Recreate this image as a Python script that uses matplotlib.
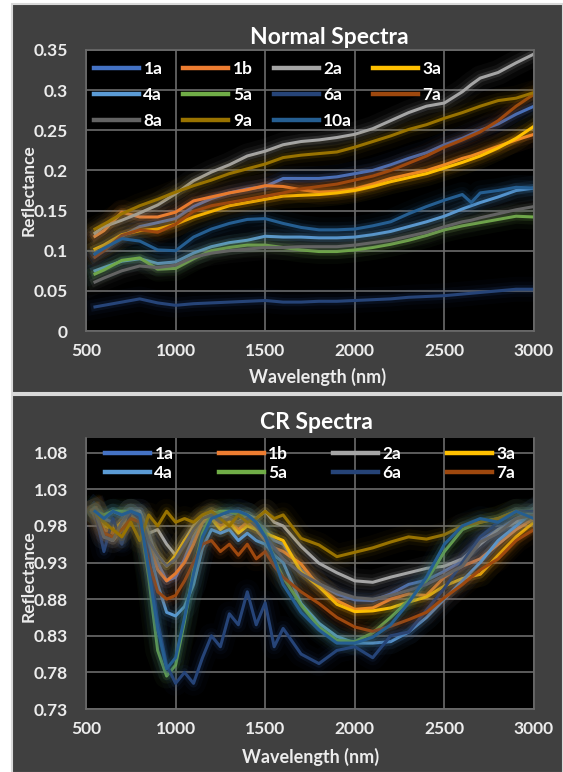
import matplotlib
matplotlib.use("Agg")
import matplotlib.pyplot as plt
import matplotlib.patheffects as pe
from matplotlib.patches import Rectangle
from matplotlib.ticker import FixedLocator, FixedFormatter

plt.rcParams['font.family'] = ['Lato', 'DejaVu Sans']
plt.rcParams['font.weight'] = 'bold'

# ---------------- data: Normal spectra ----------------
wl_normal = [550, 600, 700, 800, 900, 1000, 1100, 1200, 1300, 1400, 1500, 1600, 1700,
             1800, 1900, 2000, 2100, 2200, 2300, 2400, 2500, 2600, 2650, 2700, 2800, 2900, 3000]
n_1a = [0.096, 0.103, 0.118, 0.130, 0.135, 0.140, 0.155, 0.165, 0.172, 0.177, 0.180, 0.190, 0.190,
        0.190, 0.192, 0.196, 0.200, 0.207, 0.215, 0.222, 0.232, 0.240, 0.245, 0.250, 0.258, 0.270, 0.280]
n_1b = [0.118, 0.125, 0.148, 0.142, 0.142, 0.148, 0.162, 0.167, 0.172, 0.176, 0.181, 0.180, 0.176,
        0.173, 0.174, 0.177, 0.183, 0.190, 0.195, 0.200, 0.207, 0.215, 0.218, 0.222, 0.230, 0.238, 0.245]
n_2a = [0.122, 0.130, 0.138, 0.147, 0.157, 0.171, 0.187, 0.198, 0.207, 0.218, 0.224, 0.232, 0.236,
        0.238, 0.241, 0.245, 0.252, 0.262, 0.272, 0.280, 0.284, 0.298, 0.307, 0.315, 0.322, 0.334, 0.345]
n_3a = [0.102, 0.107, 0.120, 0.125, 0.127, 0.133, 0.142, 0.149, 0.156, 0.160, 0.164, 0.168, 0.169,
        0.170, 0.172, 0.175, 0.180, 0.186, 0.191, 0.196, 0.203, 0.210, 0.214, 0.218, 0.228, 0.240, 0.255]
n_4a = [0.075, 0.079, 0.087, 0.090, 0.084, 0.086, 0.097, 0.105, 0.110, 0.113, 0.118, 0.117, 0.117,
        0.116, 0.116, 0.117, 0.120, 0.124, 0.130, 0.136, 0.143, 0.152, 0.156, 0.160, 0.167, 0.175, 0.178]
n_5a = [0.071, 0.076, 0.088, 0.091, 0.077, 0.078, 0.090, 0.100, 0.104, 0.107, 0.107, 0.104, 0.101,
        0.099, 0.099, 0.101, 0.104, 0.108, 0.113, 0.119, 0.126, 0.131, 0.133, 0.135, 0.139, 0.143, 0.142]
n_6a = [0.030, 0.032, 0.036, 0.040, 0.035, 0.032, 0.034, 0.035, 0.036, 0.037, 0.038, 0.036, 0.036,
        0.037, 0.037, 0.038, 0.039, 0.040, 0.042, 0.043, 0.044, 0.046, 0.047, 0.048, 0.050, 0.052, 0.052]
n_7a = [0.092, 0.100, 0.119, 0.126, 0.123, 0.133, 0.149, 0.156, 0.160, 0.164, 0.168, 0.172, 0.177,
        0.180, 0.183, 0.188, 0.193, 0.200, 0.209, 0.218, 0.229, 0.238, 0.243, 0.248, 0.262, 0.280, 0.295]
n_8a = [0.061, 0.066, 0.075, 0.081, 0.079, 0.082, 0.092, 0.097, 0.100, 0.102, 0.104, 0.104, 0.105,
        0.105, 0.105, 0.107, 0.110, 0.113, 0.118, 0.123, 0.130, 0.136, 0.138, 0.141, 0.146, 0.151, 0.155]
n_9a = [0.127, 0.133, 0.146, 0.156, 0.164, 0.173, 0.181, 0.188, 0.196, 0.202, 0.208, 0.216, 0.219,
        0.221, 0.223, 0.229, 0.236, 0.243, 0.251, 0.257, 0.265, 0.272, 0.276, 0.280, 0.287, 0.290, 0.297]
n_10a = [0.096, 0.103, 0.115, 0.112, 0.101, 0.100, 0.117, 0.127, 0.134, 0.139, 0.140, 0.134, 0.129,
         0.126, 0.126, 0.127, 0.131, 0.136, 0.146, 0.155, 0.163, 0.170, 0.160, 0.172, 0.175, 0.179, 0.178]

# ---------------- data: CR spectra ----------------
wl_cr = [550, 600, 650, 700, 750, 800, 850, 900, 950, 1000, 1050, 1100, 1150, 1200, 1250, 1300,
         1350, 1400, 1450, 1500, 1550, 1600, 1700, 1800, 1900, 2000, 2100, 2200, 2300, 2400,
         2500, 2600, 2700, 2800, 2900, 3000]
c_1a = [1.0, 0.99, 0.985, 0.96, 1.0, 1.0, 0.97, 0.93, 0.905, 0.91, 0.935, 0.965, 0.985, 0.99, 0.99, 0.995,
        1.0, 0.995, 0.985, 0.975, 0.96, 0.955, 0.92, 0.901, 0.887, 0.879, 0.878, 0.887, 0.9, 0.906,
        0.918, 0.932, 0.96, 0.975, 0.99, 1.0]
c_1b = [1.0, 0.975, 0.97, 0.985, 0.995, 0.99, 0.955, 0.92, 0.905, 0.915, 0.93, 0.955, 0.985, 0.995, 0.98, 0.985,
        0.975, 0.985, 0.975, 0.96, 0.95, 0.945, 0.928, 0.897, 0.878, 0.866, 0.868, 0.88, 0.887, 0.885,
        0.91, 0.925, 0.935, 0.955, 0.975, 0.99]
c_2a = [1.0, 0.965, 0.96, 0.975, 1.0, 1.0, 0.97, 0.975, 0.955, 0.94, 0.96, 0.98, 0.99, 1.0, 0.995, 0.99,
        0.985, 0.995, 0.99, 1.0, 0.985, 0.98, 0.952, 0.929, 0.916, 0.905, 0.903, 0.91, 0.916, 0.922,
        0.925, 0.935, 0.955, 0.975, 0.985, 1.0]
c_3a = [1.0, 0.98, 0.975, 0.985, 1.0, 0.99, 0.96, 0.94, 0.925, 0.94, 0.96, 0.975, 0.99, 0.99, 0.975, 0.985,
        0.97, 0.98, 0.975, 0.97, 0.965, 0.96, 0.917, 0.897, 0.873, 0.863, 0.864, 0.868, 0.876, 0.883,
        0.898, 0.908, 0.914, 0.94, 0.965, 0.985]
c_4a = [1.0, 0.99, 1.0, 0.995, 1.0, 0.99, 0.95, 0.9, 0.862, 0.857, 0.87, 0.9, 0.95, 0.975, 0.97, 0.975,
        0.96, 0.97, 0.96, 0.955, 0.94, 0.93, 0.874, 0.847, 0.829, 0.82, 0.82, 0.822, 0.835, 0.855,
        0.88, 0.905, 0.93, 0.96, 0.98, 1.0]
c_5a = [1.0, 0.995, 1.0, 1.0, 1.0, 0.99, 0.91, 0.81, 0.775, 0.79, 0.85, 0.92, 0.97, 0.995, 1.0, 1.0,
        0.995, 0.995, 0.985, 0.97, 0.935, 0.91, 0.872, 0.842, 0.824, 0.822, 0.834, 0.855, 0.878, 0.905,
        0.945, 0.975, 0.985, 0.99, 1.0, 1.0]
c_6a = [1.0, 0.945, 0.99, 0.955, 1.0, 0.99, 0.94, 0.85, 0.79, 0.765, 0.78, 0.765, 0.8, 0.83, 0.815, 0.86,
        0.845, 0.89, 0.845, 0.875, 0.815, 0.84, 0.805, 0.792, 0.81, 0.815, 0.8, 0.83, 0.835, 0.865,
        0.895, 0.93, 0.965, 0.985, 1.0, 1.0]
c_7a = [1.0, 0.97, 0.965, 0.975, 0.99, 0.985, 0.93, 0.89, 0.88, 0.885, 0.905, 0.93, 0.955, 0.96, 0.945, 0.955,
        0.94, 0.955, 0.935, 0.945, 0.925, 0.91, 0.89, 0.874, 0.855, 0.842, 0.836, 0.843, 0.852, 0.862,
        0.882, 0.9, 0.92, 0.935, 0.96, 0.975]
c_8a = [1.0, 0.965, 0.96, 0.985, 1.0, 0.995, 0.96, 0.94, 0.925, 0.935, 0.955, 0.975, 0.99, 0.995, 0.985, 0.99,
        0.985, 0.99, 0.98, 0.965, 0.95, 0.935, 0.915, 0.901, 0.89, 0.882, 0.88, 0.885, 0.892, 0.9,
        0.912, 0.925, 0.958, 0.97, 0.99, 0.995]
c_9a = [1.0, 0.985, 0.975, 0.965, 0.985, 0.96, 0.995, 0.98, 1.0, 0.985, 0.99, 0.985, 0.995, 1.0, 0.99, 0.98,
        0.995, 0.985, 0.99, 1.0, 0.99, 0.995, 0.963, 0.954, 0.938, 0.944, 0.95, 0.958, 0.965, 0.962,
        0.968, 0.98, 0.985, 0.99, 1.0, 0.99]
c_10a = [1.0, 0.99, 1.0, 0.995, 1.0, 0.995, 0.92, 0.84, 0.785, 0.8, 0.855, 0.915, 0.965, 0.99, 0.995, 1.0,
         1.0, 0.995, 0.985, 0.965, 0.935, 0.9, 0.862, 0.838, 0.82, 0.82, 0.828, 0.845, 0.875, 0.91,
         0.955, 0.98, 0.99, 0.985, 1.0, 0.99]

names = ['1a', '1b', '2a', '3a', '4a', '5a', '6a', '7a', '8a', '9a', '10a']
colors = ['#4472C4', '#ED7D31', '#A5A5A5', '#FFC000', '#5B9BD5', '#70AD47',
          '#264478', '#9E480E', '#636363', '#997300', '#255E91']
normal_series = [n_1a, n_1b, n_2a, n_3a, n_4a, n_5a, n_6a, n_7a, n_8a, n_9a, n_10a]
cr_series = [c_1a, c_1b, c_2a, c_3a, c_4a, c_5a, c_6a, c_7a, c_8a, c_9a, c_10a]

y_ticks_normal = [0, 0.05, 0.1, 0.15, 0.2, 0.25, 0.3, 0.35]
y_labels_normal = ['0', '0.05', '0.1', '0.15', '0.2', '0.25', '0.3', '0.35']
y_ticks_cr = [0.73, 0.78, 0.83, 0.88, 0.93, 0.98, 1.03, 1.08]
y_labels_cr = ['0.73', '0.78', '0.83', '0.88', '0.93', '0.98', '1.03', '1.08']
x_ticks = [500, 1000, 1500, 2000, 2500, 3000]

# ---------------- figure ----------------
W, H = 563, 772
fig = plt.figure(figsize=(W / 100, H / 100), dpi=100)
fig.patch.set_facecolor('white')

def fx(px):
    return px / W

def fy(py):
    return 1 - py / H

PANEL = '#404040'
fig.patches.append(Rectangle((fx(11.5), fy(392.5)), fx(563 - 11.5), fy(3.5) - fy(392.5),
                             transform=fig.transFigure, facecolor=PANEL, edgecolor='#d9d9d9',
                             linewidth=1.5, zorder=-10))
fig.patches.append(Rectangle((fx(11.5), fy(773)), fx(563 - 11.5), fy(394.5) - fy(773),
                             transform=fig.transFigure, facecolor=PANEL, edgecolor='#d9d9d9',
                             linewidth=1.5, zorder=-10))

TXT = '#ececec'
GRID = '#6b6b6b'


def glow(c):
    return [pe.Stroke(linewidth=18, foreground=c, alpha=0.045),
            pe.Stroke(linewidth=11, foreground=c, alpha=0.075),
            pe.Stroke(linewidth=6, foreground=c, alpha=0.17),
            pe.Normal()]


def setup(ax, yt, yl, ylim):
    ax.set_facecolor('black')
    ax.set_xlim(500, 3000)
    ax.set_ylim(*ylim)
    ax.xaxis.set_major_locator(FixedLocator(x_ticks))
    ax.yaxis.set_major_locator(FixedLocator(yt))
    ax.yaxis.set_major_formatter(FixedFormatter(yl))
    ax.grid(True, color=GRID, linewidth=1.2)
    ax.set_axisbelow(True)
    for s in ax.spines.values():
        s.set_color(GRID)
        s.set_linewidth(1.2)
    ax.tick_params(length=0, colors=TXT, labelsize=12.5)
    ax.tick_params(axis='y', pad=13)
    ax.tick_params(axis='x', pad=9)
    for lab in ax.get_xticklabels() + ax.get_yticklabels():
        lab.set_fontweight('bold')


def reorder(items, ncol):
    nrow = -(-len(items) // ncol)
    out = []
    for c in range(ncol):
        for r in range(nrow):
            i = r * ncol + c
            if i < len(items):
                out.append(items[i])
    return out


# ---- top: Normal Spectra ----
ax1 = fig.add_axes([fx(86), fy(331), fx(534) - fx(86), fy(50) - fy(331)])
setup(ax1, y_ticks_normal, y_labels_normal, (0, 0.35))
lines1 = []
for name, col, ys in zip(names, colors, normal_series):
    ln, = ax1.plot(wl_normal, ys, color=col, linewidth=2.2, label=name,
                   path_effects=glow(col), solid_joinstyle='round')
    lines1.append(ln)
h1 = reorder(lines1, 4)
leg1 = ax1.legend(handles=h1, labels=[h.get_label() for h in h1], ncol=4, loc='upper left',
                  bbox_to_anchor=(8 / 448, 1 - 11 / 281), frameon=False,
                  handlelength=2.6, handletextpad=0.25, columnspacing=1.2,
                  labelspacing=0.58, borderpad=0, borderaxespad=0,
                  prop={'weight': 'bold', 'size': 12.5})
for t in leg1.get_texts():
    t.set_color('white')
for l in leg1.get_lines():
    l.set_path_effects([])
    l.set_linewidth(3.2)

fig.text(fx(329), fy(37), 'Normal Spectra', ha='center', va='center', color='white',
         fontsize=16.5, fontweight='bold')
fig.text(fx(318), fy(377), 'Wavelength (nm)', ha='center', va='center', color=TXT,
         fontsize=13, fontweight='bold')
fig.text(fx(29), fy(190), 'Reflectance', ha='center', va='center', color=TXT,
         fontsize=12.5, fontweight='bold', rotation=90)

# ---- bottom: CR Spectra ----
ax2 = fig.add_axes([fx(86), fy(709), fx(534) - fx(86), fy(438) - fy(709)])
setup(ax2, y_ticks_cr, y_labels_cr, (0.73, 1.1))
ax2.spines['top'].set_visible(False)
lines2 = []
for name, col, ys in zip(names, colors, cr_series):
    ln, = ax2.plot(wl_cr, ys, color=col, linewidth=2.2, label=name,
                   path_effects=glow(col), solid_joinstyle='round')
    lines2.append(ln)
h2 = reorder(lines2[:8], 4)
leg2 = ax2.legend(handles=h2, labels=[h.get_label() for h in h2], ncol=4, loc='upper left',
                  bbox_to_anchor=(19 / 448, 1 - 8 / 271), frameon=False,
                  handlelength=2.6, handletextpad=0.25, columnspacing=2.6,
                  labelspacing=0.15, borderpad=0, borderaxespad=0,
                  prop={'weight': 'bold', 'size': 12.5})
for t in leg2.get_texts():
    t.set_color('white')
for l in leg2.get_lines():
    l.set_path_effects([])
    l.set_linewidth(3.2)

fig.text(fx(316), fy(422), 'CR Spectra', ha='center', va='center', color='white',
         fontsize=16.5, fontweight='bold')
fig.text(fx(311), fy(757), 'Wavelength (nm)', ha='center', va='center', color=TXT,
         fontsize=13, fontweight='bold')
fig.text(fx(29), fy(576), 'Reflectance', ha='center', va='center', color=TXT,
         fontsize=12.5, fontweight='bold', rotation=90)

fig.savefig('out.png', dpi=100, facecolor=fig.get_facecolor())
